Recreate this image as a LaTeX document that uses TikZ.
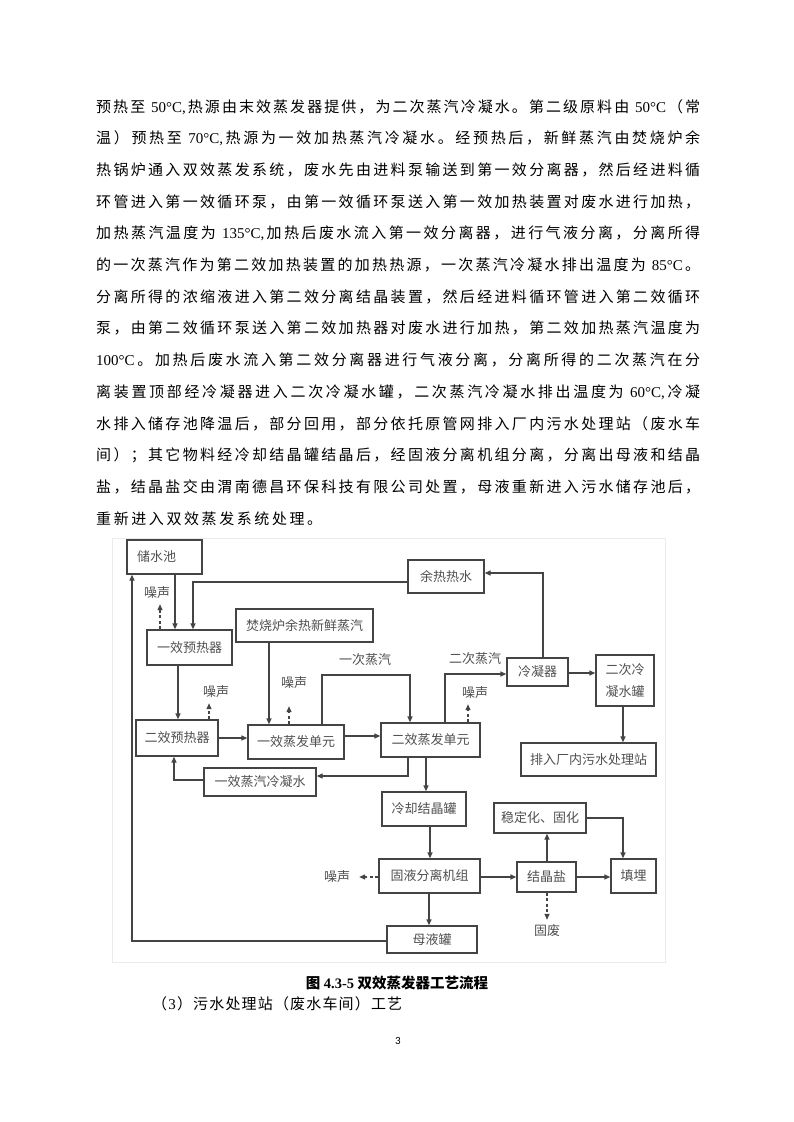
\documentclass[tikz,border=0pt]{standalone}
\usepackage{fontspec}
\setmainfont{Liberation Serif}
\newfontfamily\cjk{Noto Sans CJK SC}
\newfontfamily\lat{Liberation Serif}
\newfontfamily\pgn{Carlito}
\usetikzlibrary{arrows.meta}
\definecolor{linec}{RGB}{68,68,68}
\definecolor{txtc}{RGB}{80,80,80}
\definecolor{framec}{RGB}{235,235,235}
\newcommand\sprd[2]{\makebox[#1][s]{\sprdfirst#2\sprdend}}
\def\sprdfirst#1{#1\sprdrest}
\def\sprdrest#1{\ifx\sprdend#1\else\hfil#1\expandafter\sprdrest\fi}
\def\sprdend{\relax}
\begin{document}
\begin{tikzpicture}[x=1pt,y=-1pt,
  body/.style={anchor=base west,inner sep=0pt,font=\cjk\fontsize{15}{15}\selectfont},
  box/.style={draw=linec,line width=1.3pt,fill=white,inner sep=0pt,text=txtc,
    font=\cjk\fontsize{13}{14}\selectfont},
  lbl/.style={inner sep=1pt,text=txtc,font=\cjk\fontsize{13}{14}\selectfont},
  arr/.style={draw=linec,line width=1.3pt,-{Triangle[length=6pt,width=5pt]}},
  darr/.style={arr,dash pattern=on 3pt off 2.5pt},
  ln/.style={draw=linec,line width=1.3pt}]
\fill[white] (0,0) rectangle (793,1122);
\useasboundingbox (0,0) rectangle (793,1122);

% body text
\node[body] (l1) at (96,112) {\sprd{604pt}{预热至{{\lat\ 50°C,}}热源由末效蒸发器提供，为二次蒸汽冷凝水。第二级原料由{{\lat\ 50°C}}（常}};
\node[body] (l2) at (96,143.7) {\sprd{604pt}{温）预热至{{\lat\ 70°C,}}热源为一效加热蒸汽冷凝水。经预热后，新鲜蒸汽由焚烧炉余}};
\node[body] (l3) at (96,175.4) {\sprd{604pt}{热锅炉通入双效蒸发系统，废水先由进料泵输送到第一效分离器，然后经进料循}};
\node[body] (l4) at (96,207.1) {\sprd{604pt}{环管进入第一效循环泵，由第一效循环泵送入第一效加热装置对废水进行加热，}};
\node[body] (l5) at (96,238.8) {\sprd{604pt}{加热蒸汽温度为{{\lat\ 135°C,}}加热后废水流入第一效分离器，进行气液分离，分离所得}};
\node[body] (l6) at (96,270.5) {\sprd{604pt}{的一次蒸汽作为第二效加热装置的加热热源，一次蒸汽冷凝水排出温度为{{\lat\ 85°C}}。}};
\node[body] (l7) at (96,302.2) {\sprd{604pt}{分离所得的浓缩液进入第二效分离结晶装置，然后经进料循环管进入第二效循环}};
\node[body] (l8) at (96,333.9) {\sprd{604pt}{泵，由第二效循环泵送入第二效加热器对废水进行加热，第二效加热蒸汽温度为}};
\node[body] (l9) at (96,365.6) {\sprd{604pt}{{{\lat 100°C}}。加热后废水流入第二效分离器进行气液分离，分离所得的二次蒸汽在分}};
\node[body] (l10) at (96,397.3) {\sprd{604pt}{离装置顶部经冷凝器进入二次冷凝水罐，二次蒸汽冷凝水排出温度为{{\lat\ 60°C,}}冷凝}};
\node[body] (l11) at (96,429) {\sprd{604pt}{水排入储存池降温后，部分回用，部分依托原管网排入厂内污水处理站（废水车}};
\node[body] (l12) at (96,460.7) {\sprd{604pt}{间）；其它物料经冷却结晶罐结晶后，经固液分离机组分离，分离出母液和结晶}};
\node[body] (l13) at (96,492.4) {\sprd{604pt}{盐，结晶盐交由渭南德昌环保科技有限公司处置，母液重新进入污水储存池后，}};
\node[body] (l14) at (96,524.1) {\sprd{226pt}{重新进入双效蒸发系统处理。}};

% faint frame of the pasted figure
\draw[framec,line width=1pt] (112,538) rectangle (665,962);

% boxes
\node[box,minimum width=75pt,minimum height=34pt] (cs) at (164.5,557) {储水池\hspace*{16pt}};
\node[box,minimum width=85pt,minimum height=35pt] (yr) at (189.5,647.5) {一效预热器};
\node[box,minimum width=82pt,minimum height=36pt] (er) at (177,738) {二效预热器};
\node[box,minimum width=137pt,minimum height=33pt] (fs) at (304.5,625.5) {焚烧炉余热新鲜蒸汽};
\node[box,minimum width=96pt,minimum height=34pt] (ye) at (296,742) {一效蒸发单元};
\node[box,minimum width=99pt,minimum height=34pt] (ee) at (430.5,740) {二效蒸发单元};
\node[box,minimum width=76pt,minimum height=33pt] (yrs) at (446,576.5) {余热热水};
\node[box,minimum width=61pt,minimum height=28pt] (lnq) at (537.5,672) {冷凝器};
\node[box,minimum width=58pt,minimum height=51pt,align=center,font=\cjk\fontsize{13}{22}\selectfont] (ecl) at (625,680.5) {二次冷\\凝水罐};
\node[box,minimum width=135pt,minimum height=33pt] (pr) at (588.5,759.5) {排入厂内污水处理站};
\node[box,minimum width=112pt,minimum height=28pt] (yq) at (260,782) {一效蒸汽冷凝水};
\node[box,minimum width=84pt,minimum height=34pt] (lq) at (424,809) {冷却结晶罐};
\node[box,minimum width=101pt,minimum height=34pt] (gy) at (429.5,876) {固液分离机组};
\node[box,minimum width=59pt,minimum height=30pt] (jj) at (546.5,877) {结晶盐};
\node[box,minimum width=92pt,minimum height=30pt] (wd) at (540,818) {稳定化、固化};
\node[box,minimum width=45pt,minimum height=34pt] (tm) at (633.5,876) {填埋};
\node[box,minimum width=90pt,minimum height=27pt] (my) at (432,939.5) {母液罐};

% labels
\node[lbl] (n1) at (157,593) {噪声};
\node[lbl] (n2) at (216,692) {噪声};
\node[lbl] (n3) at (294,683) {噪声};
\node[lbl] (n4) at (475,693) {噪声};
\node[lbl] (n5) at (337,877) {噪声};
\node[lbl] (gf) at (547,931) {固废};
\node[lbl] (lb1) at (365,660) {一次蒸汽};
\node[lbl] (lb2) at (475,659) {二次蒸汽};

% connectors
\draw[arr] (175,0 |- cs.south) -- (175,0 |- yr.north);
\draw[arr] (yrs.west |- 0,582) -- (193,582) -- (193,0 |- yr.north);
\draw[arr] (178,0 |- yr.south) -- (178,0 |- er.north);
\draw[arr] (er.east |- 0,738) -- (ye.west |- 0,738);
\draw[arr] (269,0 |- fs.south) -- (269,0 |- ye.north);
\draw[arr] (322,0 |- ye.north) -- (322,675) -- (410,675) -- (410,0 |- ee.north);
\draw[arr] (ye.east |- 0,736) -- (ee.west |- 0,736);
\draw[arr] (445,0 |- ee.north) -- (445,674) -- (lnq.west |- 0,674);
\draw[arr] (543,0 |- lnq.north) -- (543,573) -- (yrs.east |- 0,573);
\draw[arr] (lnq.east |- 0,673) -- (ecl.west |- 0,673);
\draw[arr] (623,0 |- ecl.south) -- (623,0 |- pr.north);
\draw[arr] (408,0 |- ee.south) -- (408,776) -- (yq.east |- 0,776);
\draw[arr] (yq.west |- 0,780) -- (174,780) -- (174,0 |- er.south);
\draw[arr] (426,0 |- ee.south) -- (426,0 |- lq.north);
\draw[arr] (430,0 |- lq.south) -- (430,0 |- gy.north);
\draw[arr] (gy.east |- 0,877) -- (jj.west |- 0,877);
\draw[arr] (547,0 |- jj.north) -- (547,0 |- wd.south);
\draw[arr] (wd.east |- 0,818) -- (623,818) -- (623,0 |- tm.north);
\draw[arr] (jj.east |- 0,877) -- (tm.west |- 0,877);
\draw[arr] (429,0 |- gy.south) -- (429,0 |- my.north);
\draw[arr] (my.west |- 0,941) -- (132,941) -- (132,0 |- cs.south);

% dashed emission arrows
\draw[darr,shorten >=4pt] (160,0 |- yr.north) -- (160,0 |- n1.south);
\draw[darr,shorten >=4pt] (209,0 |- er.north) -- (209,0 |- n2.south);
\draw[darr,shorten >=16pt] (289,0 |- ye.north) -- (289,0 |- n3.south);
\draw[darr,shorten >=4pt] (468,0 |- ee.north) -- (468,0 |- n4.south);
\draw[darr,shorten >=8pt] (gy.west |- 0,877) -- (n5.east |- 0,877);
\draw[darr,shorten >=4pt] (547,0 |- jj.south) -- (547,0 |- gf.north);

% caption and following text
\node[anchor=base,inner sep=0pt,font=\cjk\bfseries\fontsize{14.5}{15}\selectfont] (cap) at (397,988) {图{\lat\bfseries\ 4.3-5\ }双效蒸发器工艺流程};
\node[body] (h3) at (152,1009) {\sprd{250pt}{（{{\lat 3}}）污水处理站（废水车间）工艺}};
\node[anchor=base,inner sep=0pt,font=\pgn\fontsize{11}{11}\selectfont] (pg) at (398,1044) {3};
\end{tikzpicture}
\end{document}
